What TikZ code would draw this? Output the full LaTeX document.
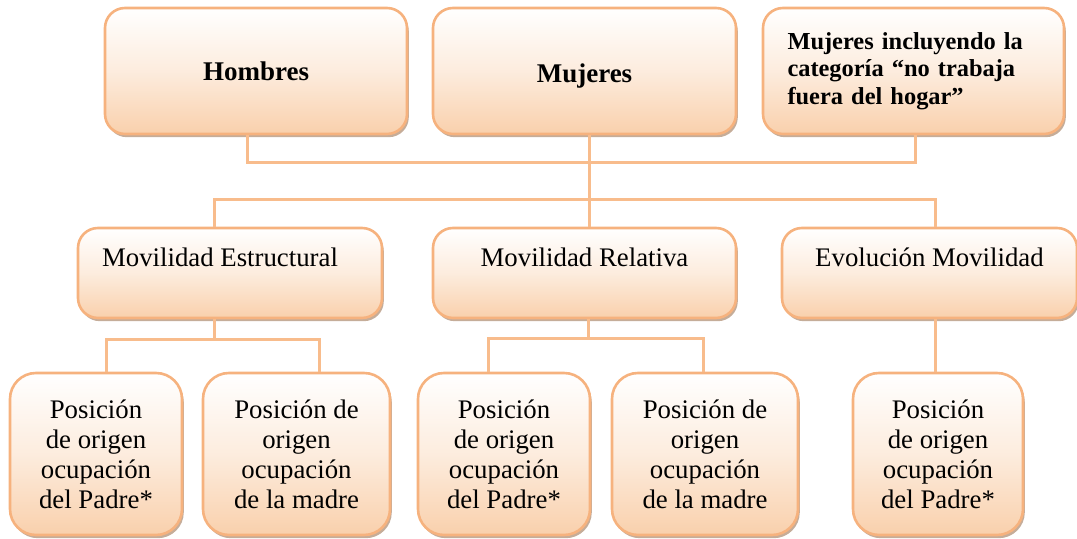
\documentclass[tikz,border=0pt]{standalone}
\usepackage{fontspec}
\setmainfont{Liberation Serif}
\usetikzlibrary{shadows}
\definecolor{peachline}{RGB}{248,188,140}
\definecolor{peachedge}{RGB}{246,178,126}
\definecolor{peachfill}{RGB}{249,208,172}
\definecolor{shadowbrown}{RGB}{150,105,70}
\tikzstyle{box}=[draw=peachedge, line width=1.3pt, inner sep=0pt,
  top color=white, bottom color=peachfill, middle color=peachfill!40!white,
  drop shadow={shadow xshift=0.9pt, shadow yshift=-1.6pt, fill=shadowbrown, opacity=0.55}]
\tikzstyle{topbox}=[box, rounded corners=10pt, minimum height=63pt, font=\fontsize{13.5}{15}\selectfont\bfseries]
\tikzstyle{midbox}=[box, rounded corners=10pt, minimum height=45pt, text height=9pt, text depth=15.4pt, font=\fontsize{13.4}{15}\selectfont]
\tikzstyle{leafbox}=[box, rounded corners=13pt, minimum height=81pt, align=center, font=\fontsize{13.4}{15}\selectfont]
\tikzstyle{link}=[draw=peachline, line width=1.5pt]

\begin{document}
\begin{tikzpicture}[x=0.5pt, y=-0.5pt]
      \useasboundingbox (0,0) rectangle (1077,539);

      % first row
      \node[topbox, minimum width=151pt] (hombres) at (256,71) {Hombres};
      \node[topbox, minimum width=151.5pt] (mujeres) at (584.5,71) {\raisebox{-2.5pt}[\height][\depth]{Mujeres}};
      \node[topbox, minimum width=150.5pt, text width=126pt, align=left,
        font=\fontsize{12.2}{13.75}\selectfont\bfseries] (mujcat) at (913.5,71)
        {Mujeres incluyendo la\\categoría “no trabaja\\fuera del hogar”};

      % second row
      \node[midbox, minimum width=152pt] (estructural) at (230,273) {Movilidad Estructural\kern10pt};
      \node[midbox, minimum width=151.5pt] (relativa) at (584.5,273) {Movilidad Relativa};
      \node[midbox, minimum width=147.5pt] (evolucion) at (929.5,273) {Evolución Movilidad};

      % third row
      \node[leafbox, minimum width=86pt] (padreA) at (96,454) {Posición\\de origen\\ocupación\\del Padre*};
      \node[leafbox, minimum width=93.5pt] (madreA) at (296.5,454) {Posición de\\origen\\ocupación\\de la madre};
      \node[leafbox, minimum width=86pt] (padreB) at (504,454) {Posición\\de origen\\ocupación\\del Padre*};
      \node[leafbox, minimum width=93pt] (madreB) at (705,454) {Posición de\\origen\\ocupación\\de la madre};
      \node[leafbox, minimum width=85pt] (padreC) at (938,454) {Posición\\de origen\\ocupación\\del Padre*};

      \coordinate (bus1) at (589,163);
      \coordinate (bus2) at (589,200);
      \coordinate (busA) at (214,340);
      \coordinate (busB) at (588,339);

      \draw[link] ([xshift=-4.5pt]hombres.south) |- (bus1) -| ([xshift=0.75pt]mujcat.south);
      \draw[link] ([xshift=2.25pt]mujeres.south) -- ([xshift=2.25pt]relativa.north);
      \draw[link] ([xshift=-8pt]estructural.north) |- (bus2) -| ([xshift=2.75pt]evolucion.north);

      \draw[link] ([xshift=-8pt]estructural.south) -- (busA);
      \draw[link] ([xshift=5pt]padreA.north) |- (busA) -| ([xshift=11.25pt]madreA.north);
      \draw[link] ([xshift=1.75pt]relativa.south) -- (busB);
      \draw[link] ([xshift=-8pt]padreB.north) |- (busB) -| ([xshift=-1pt]madreB.north);
      \draw[link] ([xshift=2.75pt]evolucion.south) -- ([xshift=-1.5pt]padreC.north);
    \end{tikzpicture}
\end{document}
